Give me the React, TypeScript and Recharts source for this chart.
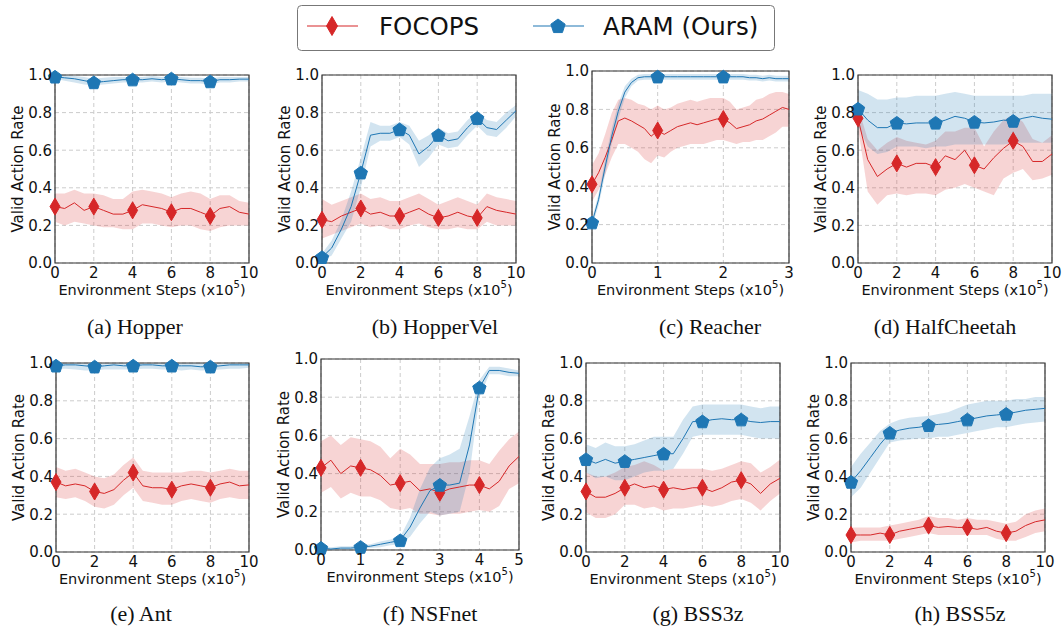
import React from "react";
import {
  ComposedChart,
  Line,
  Area,
  XAxis,
  YAxis,
  CartesianGrid,
  ReferenceArea,
} from "recharts";

const RED = "#d62728";
const BLUE = "#1f77b4";
const FONT = '"DejaVu Sans", sans-serif';

// x positions (x10^5 steps)
const steps10 = [0, 0.5, 1, 1.5, 2, 2.5, 3, 3.5, 4, 4.5, 5, 5.5, 6, 6.5, 7, 7.5, 8, 8.5, 9, 9.5, 10];
const steps3 = [
  0, 0.1, 0.2, 0.3, 0.4, 0.5, 0.6, 0.7, 0.8, 0.9, 1, 1.1, 1.2, 1.3, 1.4, 1.5, 1.6, 1.7, 1.8, 1.9, 2,
  2.1, 2.2, 2.3, 2.4, 2.5, 2.6, 2.7, 2.8, 2.9, 3,
];
const steps5 = [0, 0.25, 0.5, 0.75, 1, 1.25, 1.5, 1.75, 2, 2.25, 2.5, 2.75, 3, 3.25, 3.5, 3.75, 4, 4.25, 4.5, 4.75, 5];

const ticks10 = [0, 2, 4, 6, 8, 10];
const ticks3 = [0, 1, 2, 3];
const ticks5 = [0, 1, 2, 3, 4, 5];
const yTicks = [0, 0.2, 0.4, 0.6, 0.8, 1.0];

// (a) Hopper
const hopF = [0.30, 0.29, 0.32, 0.28, 0.30, 0.28, 0.26, 0.26, 0.28, 0.31, 0.30, 0.29, 0.27, 0.29, 0.29, 0.27, 0.25, 0.29, 0.30, 0.27, 0.26];
const hopFlo = [0.22, 0.20, 0.22, 0.21, 0.20, 0.19, 0.19, 0.18, 0.18, 0.21, 0.21, 0.20, 0.19, 0.20, 0.20, 0.18, 0.17, 0.19, 0.20, 0.20, 0.20];
const hopFhi = [0.37, 0.37, 0.39, 0.37, 0.37, 0.36, 0.34, 0.34, 0.38, 0.39, 0.38, 0.37, 0.35, 0.37, 0.38, 0.37, 0.34, 0.36, 0.36, 0.33, 0.32];
const hopA = [0.99, 0.985, 0.98, 0.97, 0.96, 0.965, 0.97, 0.975, 0.975, 0.975, 0.98, 0.975, 0.98, 0.975, 0.97, 0.97, 0.965, 0.975, 0.975, 0.978, 0.978];
const hopAlo = [0.98, 0.97, 0.96, 0.95, 0.945, 0.95, 0.955, 0.96, 0.96, 0.96, 0.965, 0.96, 0.965, 0.96, 0.955, 0.955, 0.95, 0.96, 0.96, 0.965, 0.965];
const hopAhi = [1.0, 1.0, 0.995, 0.99, 0.98, 0.985, 0.99, 0.99, 0.99, 0.99, 0.995, 0.99, 0.995, 0.99, 0.985, 0.985, 0.98, 0.99, 0.99, 0.99, 0.99];

// (b) HopperVel
const hvF = [0.23, 0.22, 0.25, 0.27, 0.29, 0.26, 0.27, 0.25, 0.25, 0.27, 0.29, 0.26, 0.24, 0.25, 0.27, 0.25, 0.24, 0.30, 0.28, 0.27, 0.26];
const hvFlo = [0.13, 0.15, 0.17, 0.19, 0.21, 0.19, 0.20, 0.18, 0.18, 0.20, 0.21, 0.19, 0.18, 0.18, 0.19, 0.18, 0.18, 0.22, 0.20, 0.20, 0.20];
const hvFhi = [0.34, 0.31, 0.33, 0.35, 0.37, 0.34, 0.35, 0.33, 0.33, 0.35, 0.37, 0.34, 0.31, 0.33, 0.35, 0.33, 0.31, 0.37, 0.35, 0.34, 0.33];
const hvA = [0.03, 0.08, 0.18, 0.30, 0.48, 0.68, 0.69, 0.69, 0.71, 0.68, 0.58, 0.62, 0.68, 0.65, 0.66, 0.72, 0.77, 0.72, 0.71, 0.76, 0.81];
const hvAlo = [0.01, 0.04, 0.13, 0.22, 0.40, 0.62, 0.65, 0.65, 0.67, 0.63, 0.51, 0.56, 0.63, 0.61, 0.62, 0.68, 0.73, 0.68, 0.67, 0.72, 0.78];
const hvAhi = [0.05, 0.12, 0.23, 0.38, 0.56, 0.75, 0.73, 0.73, 0.75, 0.73, 0.65, 0.68, 0.72, 0.69, 0.70, 0.76, 0.80, 0.76, 0.75, 0.80, 0.84];

// (c) Reacher
const reaF = [0.41, 0.47, 0.55, 0.64, 0.74, 0.755, 0.74, 0.72, 0.70, 0.66, 0.69, 0.67, 0.69, 0.71, 0.72, 0.73, 0.72, 0.73, 0.74, 0.75, 0.75, 0.73, 0.70, 0.71, 0.72, 0.74, 0.75, 0.77, 0.79, 0.81, 0.80];
const reaFlo = [0.32, 0.38, 0.46, 0.55, 0.62, 0.62, 0.60, 0.58, 0.54, 0.52, 0.56, 0.55, 0.58, 0.60, 0.61, 0.62, 0.62, 0.62, 0.63, 0.64, 0.64, 0.63, 0.62, 0.63, 0.63, 0.64, 0.64, 0.66, 0.68, 0.71, 0.71];
const reaFhi = [0.51, 0.57, 0.67, 0.78, 0.85, 0.86, 0.85, 0.83, 0.82, 0.80, 0.82, 0.80, 0.81, 0.83, 0.84, 0.85, 0.84, 0.85, 0.86, 0.86, 0.86, 0.84, 0.80, 0.81, 0.82, 0.85, 0.86, 0.88, 0.89, 0.89, 0.88];
const reaA = [0.21, 0.33, 0.50, 0.66, 0.79, 0.89, 0.94, 0.965, 0.97, 0.97, 0.97, 0.97, 0.97, 0.97, 0.97, 0.97, 0.97, 0.97, 0.97, 0.97, 0.97, 0.97, 0.97, 0.97, 0.965, 0.965, 0.96, 0.965, 0.96, 0.96, 0.96];
const reaAlo = [0.19, 0.30, 0.46, 0.62, 0.75, 0.86, 0.92, 0.95, 0.955, 0.955, 0.955, 0.955, 0.955, 0.955, 0.955, 0.955, 0.955, 0.955, 0.955, 0.955, 0.955, 0.955, 0.955, 0.955, 0.95, 0.95, 0.945, 0.95, 0.945, 0.945, 0.945];
const reaAhi = [0.23, 0.36, 0.54, 0.70, 0.83, 0.92, 0.96, 0.98, 0.985, 0.985, 0.985, 0.985, 0.985, 0.985, 0.985, 0.985, 0.985, 0.985, 0.985, 0.985, 0.985, 0.985, 0.985, 0.985, 0.98, 0.98, 0.975, 0.98, 0.975, 0.975, 0.975];

// (d) HalfCheetah
const hcF = [0.77, 0.55, 0.46, 0.50, 0.53, 0.51, 0.53, 0.53, 0.51, 0.57, 0.55, 0.60, 0.52, 0.50, 0.56, 0.61, 0.65, 0.62, 0.54, 0.54, 0.58];
const hcFlo = [0.72, 0.38, 0.31, 0.36, 0.37, 0.36, 0.37, 0.37, 0.36, 0.39, 0.40, 0.42, 0.40, 0.38, 0.36, 0.45, 0.48, 0.50, 0.44, 0.45, 0.47];
const hcFhi = [0.83, 0.66, 0.60, 0.64, 0.67, 0.65, 0.64, 0.63, 0.65, 0.70, 0.70, 0.72, 0.72, 0.62, 0.70, 0.76, 0.79, 0.75, 0.66, 0.64, 0.68];
const hcA = [0.82, 0.76, 0.72, 0.72, 0.745, 0.74, 0.745, 0.745, 0.745, 0.76, 0.78, 0.77, 0.75, 0.745, 0.75, 0.76, 0.755, 0.77, 0.78, 0.77, 0.765];
const hcAlo = [0.73, 0.62, 0.58, 0.59, 0.62, 0.62, 0.62, 0.61, 0.62, 0.62, 0.63, 0.63, 0.63, 0.63, 0.63, 0.63, 0.64, 0.64, 0.64, 0.64, 0.64];
const hcAhi = [0.92, 0.90, 0.87, 0.87, 0.88, 0.88, 0.89, 0.89, 0.89, 0.90, 0.91, 0.90, 0.89, 0.89, 0.89, 0.89, 0.89, 0.89, 0.90, 0.90, 0.90];

// (e) Ant
const antF = [0.37, 0.35, 0.36, 0.35, 0.32, 0.31, 0.33, 0.38, 0.42, 0.35, 0.34, 0.34, 0.33, 0.35, 0.36, 0.35, 0.34, 0.36, 0.37, 0.35, 0.355];
const antFlo = [0.29, 0.28, 0.29, 0.27, 0.24, 0.23, 0.25, 0.30, 0.34, 0.27, 0.26, 0.25, 0.25, 0.27, 0.28, 0.27, 0.26, 0.28, 0.29, 0.28, 0.28];
const antFhi = [0.45, 0.43, 0.44, 0.42, 0.40, 0.39, 0.41, 0.46, 0.50, 0.43, 0.42, 0.42, 0.42, 0.42, 0.43, 0.43, 0.42, 0.43, 0.44, 0.43, 0.43];
const antA = [0.985, 0.99, 0.99, 0.985, 0.98, 0.985, 0.99, 0.985, 0.985, 0.99, 0.99, 0.985, 0.985, 0.985, 0.985, 0.98, 0.98, 0.985, 0.99, 0.99, 0.99];
const antAlo = [0.97, 0.97, 0.965, 0.96, 0.96, 0.965, 0.965, 0.965, 0.965, 0.97, 0.97, 0.965, 0.965, 0.96, 0.965, 0.96, 0.96, 0.965, 0.97, 0.97, 0.975];
const antAhi = [1, 1, 1, 1, 1, 1, 1, 1, 1, 1, 1, 1, 1, 1, 1, 1, 1, 1, 1, 1, 1];

// (f) NSFnet
const nsfF = [0.43, 0.47, 0.40, 0.44, 0.43, 0.42, 0.39, 0.34, 0.35, 0.36, 0.31, 0.32, 0.30, 0.32, 0.33, 0.34, 0.34, 0.32, 0.36, 0.44, 0.49];
const nsfFlo = [0.30, 0.33, 0.27, 0.30, 0.28, 0.28, 0.26, 0.22, 0.21, 0.22, 0.19, 0.19, 0.18, 0.19, 0.19, 0.20, 0.21, 0.20, 0.23, 0.32, 0.35];
const nsfFhi = [0.57, 0.60, 0.55, 0.59, 0.58, 0.57, 0.54, 0.48, 0.53, 0.50, 0.45, 0.45, 0.45, 0.46, 0.46, 0.47, 0.47, 0.45, 0.52, 0.58, 0.62];
const nsfA = [0.01, 0.005, 0.01, 0.01, 0.015, 0.02, 0.03, 0.04, 0.05, 0.12, 0.22, 0.31, 0.34, 0.34, 0.35, 0.55, 0.85, 0.94, 0.94, 0.93, 0.925];
const nsfAlo = [0.0, 0.0, 0.0, 0.0, 0.005, 0.01, 0.015, 0.025, 0.03, 0.07, 0.14, 0.20, 0.18, 0.19, 0.20, 0.40, 0.80, 0.92, 0.92, 0.91, 0.91];
const nsfAhi = [0.02, 0.015, 0.02, 0.02, 0.025, 0.03, 0.045, 0.055, 0.07, 0.17, 0.32, 0.43, 0.48, 0.50, 0.53, 0.70, 0.89, 0.96, 0.96, 0.95, 0.94];

// (g) BSS3z
const b3F = [0.32, 0.29, 0.29, 0.31, 0.34, 0.36, 0.34, 0.35, 0.33, 0.34, 0.33, 0.34, 0.34, 0.32, 0.34, 0.37, 0.38, 0.36, 0.31, 0.36, 0.39];
const b3Flo = [0.21, 0.18, 0.18, 0.20, 0.25, 0.25, 0.23, 0.24, 0.22, 0.23, 0.23, 0.24, 0.25, 0.24, 0.25, 0.27, 0.28, 0.26, 0.22, 0.27, 0.31];
const b3Fhi = [0.42, 0.40, 0.40, 0.42, 0.45, 0.46, 0.48, 0.46, 0.43, 0.44, 0.44, 0.44, 0.44, 0.43, 0.44, 0.46, 0.48, 0.47, 0.42, 0.45, 0.49];
const b3A = [0.49, 0.47, 0.49, 0.47, 0.48, 0.49, 0.50, 0.51, 0.52, 0.52, 0.60, 0.69, 0.69, 0.70, 0.705, 0.70, 0.70, 0.69, 0.685, 0.69, 0.69];
const b3Alo = [0.42, 0.39, 0.40, 0.38, 0.38, 0.40, 0.42, 0.43, 0.43, 0.44, 0.52, 0.61, 0.62, 0.62, 0.62, 0.62, 0.62, 0.61, 0.60, 0.60, 0.60];
const b3Ahi = [0.57, 0.55, 0.58, 0.56, 0.56, 0.57, 0.59, 0.61, 0.61, 0.61, 0.70, 0.77, 0.78, 0.78, 0.78, 0.78, 0.78, 0.77, 0.76, 0.77, 0.77];

// (h) BSS5z
const b5F = [0.09, 0.09, 0.09, 0.10, 0.09, 0.11, 0.12, 0.13, 0.14, 0.13, 0.135, 0.13, 0.13, 0.12, 0.13, 0.11, 0.10, 0.11, 0.14, 0.16, 0.17];
const b5Flo = [0.05, 0.06, 0.06, 0.06, 0.06, 0.07, 0.08, 0.09, 0.10, 0.09, 0.09, 0.09, 0.09, 0.09, 0.09, 0.07, 0.06, 0.06, 0.08, 0.10, 0.11];
const b5Fhi = [0.13, 0.13, 0.13, 0.13, 0.14, 0.15, 0.16, 0.17, 0.19, 0.18, 0.18, 0.17, 0.18, 0.17, 0.17, 0.16, 0.15, 0.16, 0.20, 0.22, 0.23];
const b5A = [0.37, 0.43, 0.50, 0.57, 0.63, 0.645, 0.655, 0.66, 0.67, 0.675, 0.68, 0.69, 0.70, 0.71, 0.72, 0.725, 0.73, 0.74, 0.75, 0.755, 0.76];
const b5Alo = [0.29, 0.34, 0.42, 0.50, 0.58, 0.59, 0.595, 0.60, 0.60, 0.61, 0.61, 0.62, 0.63, 0.64, 0.65, 0.66, 0.66, 0.67, 0.68, 0.685, 0.69];
const b5Ahi = [0.45, 0.52, 0.58, 0.64, 0.68, 0.70, 0.71, 0.715, 0.72, 0.73, 0.74, 0.76, 0.78, 0.79, 0.80, 0.80, 0.80, 0.81, 0.81, 0.82, 0.82];

const panels = [
  { x: 55, y: 75, w: 194, h: 188, caption: "(a) Hopper", capX: 135, capY: 327, steps: steps10, ticks: ticks10, xMax: 10, marks: [0, 4, 8, 12, 16], F: hopF, Flo: hopFlo, Fhi: hopFhi, A: hopA, Alo: hopAlo, Ahi: hopAhi },
  { x: 322, y: 75, w: 194, h: 188, caption: "(b) HopperVel", capX: 435, capY: 327, steps: steps10, ticks: ticks10, xMax: 10, marks: [0, 4, 8, 12, 16], F: hvF, Flo: hvFlo, Fhi: hvFhi, A: hvA, Alo: hvAlo, Ahi: hvAhi },
  { x: 592, y: 71, w: 197, h: 192, caption: "(c) Reacher", capX: 710, capY: 327, steps: steps3, ticks: ticks3, xMax: 3, marks: [0, 10, 20], F: reaF, Flo: reaFlo, Fhi: reaFhi, A: reaA, Alo: reaAlo, Ahi: reaAhi },
  { x: 858, y: 75, w: 194, h: 188, caption: "(d) HalfCheetah", capX: 945, capY: 327, steps: steps10, ticks: ticks10, xMax: 10, marks: [0, 4, 8, 12, 16], F: hcF, Flo: hcFlo, Fhi: hcFhi, A: hcA, Alo: hcAlo, Ahi: hcAhi },
  { x: 56, y: 363, w: 193, h: 189, caption: "(e) Ant", capX: 141, capY: 614, steps: steps10, ticks: ticks10, xMax: 10, marks: [0, 4, 8, 12, 16], F: antF, Flo: antFlo, Fhi: antFhi, A: antA, Alo: antAlo, Ahi: antAhi },
  { x: 321, y: 359, w: 198, h: 191, caption: "(f) NSFnet", capX: 430, capY: 614, steps: steps5, ticks: ticks5, xMax: 5, marks: [0, 4, 8, 12, 16], F: nsfF, Flo: nsfFlo, Fhi: nsfFhi, A: nsfA, Alo: nsfAlo, Ahi: nsfAhi },
  { x: 586, y: 363, w: 194, h: 189, caption: "(g) BSS3z", capX: 698, capY: 614, steps: steps10, ticks: ticks10, xMax: 10, marks: [0, 4, 8, 12, 16], F: b3F, Flo: b3Flo, Fhi: b3Fhi, A: b3A, Alo: b3Alo, Ahi: b3Ahi },
  { x: 851, y: 363, w: 194, h: 189, caption: "(h) BSS5z", capX: 960, capY: 614, steps: steps10, ticks: ticks10, xMax: 10, marks: [0, 4, 8, 12, 16], F: b5F, Flo: b5Flo, Fhi: b5Fhi, A: b5A, Alo: b5Alo, Ahi: b5Ahi },
];

const ML = 5;
const YW = 50;
const MT = 8;
const MR = 14;
const XH = 40;
const MB = 4;

const diamondPts = (cx: number, cy: number, hw: number, hh: number) =>
  `${cx},${cy - hh} ${cx + hw},${cy} ${cx},${cy + hh} ${cx - hw},${cy}`;

const pentagonPts = (cx: number, cy: number, r: number) =>
  [0, 1, 2, 3, 4]
    .map((k) => {
      const ang = ((-90 + 72 * k) * Math.PI) / 180;
      return `${cx + r * Math.cos(ang)},${cy + r * Math.sin(ang)}`;
    })
    .join(" ");

const YTitle = ({ px, py }: any) => (
  <text
    x={px}
    y={py}
    transform={`rotate(-90 ${px} ${py})`}
    textAnchor='middle'
    fontSize={15}
    fontFamily={FONT}
    fill='#111'
  >
    Valid Action Rate
  </text>
);

const XTitle = ({ px, py }: any) => (
  <text x={px} y={py} textAnchor='middle' fontSize={14.5} fontFamily={FONT} fill='#111'>
    Environment Steps (x10
    <tspan dy={-7} fontSize={10}>
      5
    </tspan>
    <tspan dy={7}>)</tspan>
  </text>
);

function Panel({ p }: { p: any }) {
  const rows = p.steps.map((s: number, i: number) => ({
    s,
    f: p.F[i],
    fBand: [p.Flo[i], p.Fhi[i]],
    a: p.A[i],
    aBand: [p.Alo[i], p.Ahi[i]],
  }));
  const width = p.w + ML + YW + MR;
  const height = p.h + MT + XH + MB;
  const tickStyle = { fontSize: 15, fill: "#111", fontFamily: FONT };

  const redDot = (props: any) => {
    const { cx, cy, index } = props;
    if (!p.marks.includes(index)) return <g key={`rd-${index}`} />;
    return <polygon key={`rd-${index}`} points={diamondPts(cx, cy, 5, 8.5)} fill={RED} stroke={RED} />;
  };
  const blueDot = (props: any) => {
    const { cx, cy, index } = props;
    if (!p.marks.includes(index)) return <g key={`bd-${index}`} />;
    return <polygon key={`bd-${index}`} points={pentagonPts(cx, cy + 0.5, 7)} fill={BLUE} stroke={BLUE} />;
  };

  return (
    <div style={{ position: "absolute", left: p.x - ML - YW, top: p.y - MT }}>
      <ComposedChart
        width={width}
        height={height}
        data={rows}
        margin={{ top: MT, right: MR, bottom: MB, left: ML }}
      >
        <CartesianGrid stroke='#cccccc' strokeDasharray='4 3' />
        <XAxis
          dataKey='s'
          type='number'
          domain={[0, p.xMax]}
          ticks={p.ticks}
          interval={0}
          height={XH}
          axisLine={false}
          tickLine={false}
          tickSize={0}
          tickMargin={4}
          tick={tickStyle}
          label={<XTitle px={ML + YW + p.w / 2} py={MT + p.h + 32} />}
        />
        <YAxis
          type='number'
          domain={[0, 1]}
          ticks={yTicks}
          interval={0}
          width={YW}
          axisLine={false}
          tickLine={false}
          tickSize={0}
          tickMargin={3}
          tick={tickStyle}
          tickFormatter={(v: number) => v.toFixed(1)}
          label={<YTitle px={ML + YW - 32} py={MT + p.h / 2} />}
        />
        <Area
          type='linear'
          dataKey='fBand'
          stroke='none'
          fill={RED}
          fillOpacity={0.2}
          dot={false}
          activeDot={false}
          isAnimationActive={false}
        />
        <Area
          type='linear'
          dataKey='aBand'
          stroke='none'
          fill={BLUE}
          fillOpacity={0.2}
          dot={false}
          activeDot={false}
          isAnimationActive={false}
        />
        <Line
          type='linear'
          dataKey='f'
          stroke={RED}
          strokeWidth={1}
          dot={redDot}
          activeDot={false}
          isAnimationActive={false}
        />
        <Line
          type='linear'
          dataKey='a'
          stroke={BLUE}
          strokeWidth={1}
          dot={blueDot}
          activeDot={false}
          isAnimationActive={false}
        />
        <ReferenceArea
          x1={0}
          x2={p.xMax}
          y1={0}
          y2={1}
          fill='none'
          fillOpacity={0}
          stroke='#333'
          strokeWidth={1.2}
        />
      </ComposedChart>
    </div>
  );
}

const LegendBox = () => (
  <svg width={1063} height={56} style={{ position: "absolute", left: 0, top: 0 }}>
    <rect x={297.5} y={5.5} width={477} height={45} rx={4} fill='#fff' stroke='#777' />
    <line x1={307} x2={358} y1={26} y2={26} stroke={RED} strokeWidth={1.2} />
    <polygon points={diamondPts(332, 26, 5.5, 9.5)} fill={RED} stroke={RED} />
    <text x={379} y={35} fontSize={24.5} fontFamily={FONT} fill='#111'>
      FOCOPS
    </text>
    <line x1={533} x2={584} y1={26} y2={26} stroke={BLUE} strokeWidth={1.2} />
    <polygon points={pentagonPts(558, 26.5, 7.5)} fill={BLUE} stroke={BLUE} />
    <text x={603} y={35} fontSize={24.5} fontFamily={FONT} fill='#111'>
      ARAM (Ours)
    </text>
  </svg>
);

export default function App() {
  return (
    <div
      style={{
        position: "absolute",
        left: 0,
        top: 0,
        width: 1063,
        height: 632,
        background: "#fff",
        overflow: "hidden",
      }}
    >
      <LegendBox />
      {panels.map((p) => (
        <React.Fragment key={p.caption}>
          <Panel p={p} />
          <div
            style={{
              position: "absolute",
              left: p.capX,
              top: p.capY - 13,
              transform: "translateX(-50%)",
              fontFamily: '"Liberation Serif", serif',
              fontSize: 22,
              color: "#111",
              whiteSpace: "nowrap",
              lineHeight: "26px",
            }}
          >
            {p.caption}
          </div>
        </React.Fragment>
      ))}
    </div>
  );
}
